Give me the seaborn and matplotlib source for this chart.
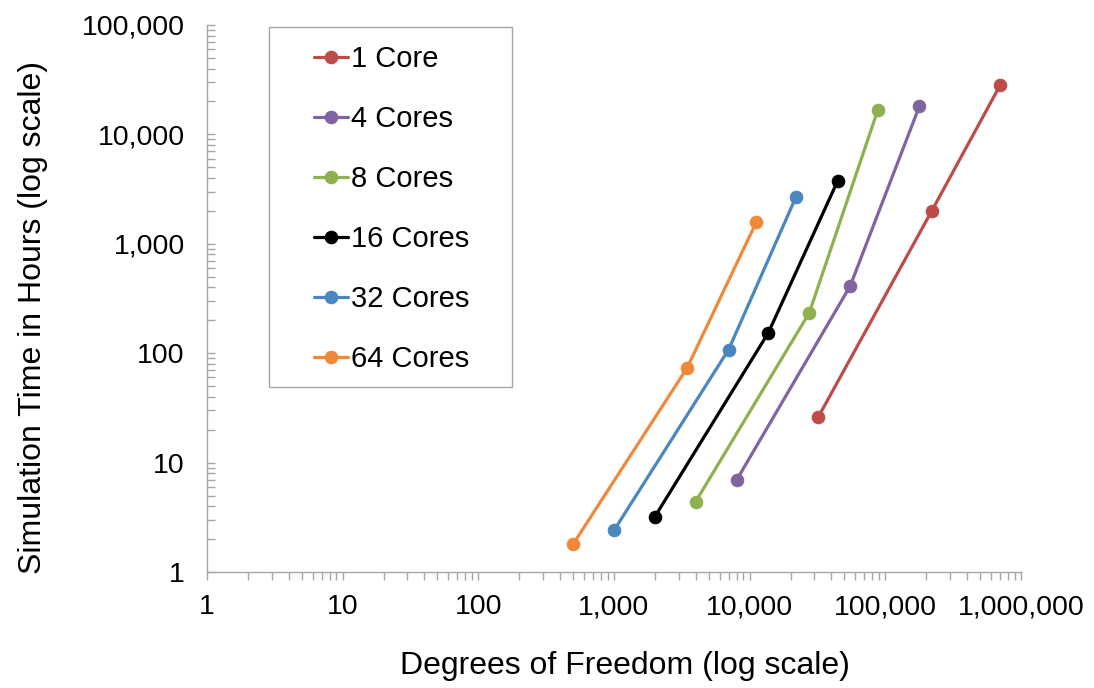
import numpy as np
import pandas as pd
import matplotlib
matplotlib.use("Agg")
import matplotlib.pyplot as plt
import matplotlib.ticker as mticker
from matplotlib.patches import Rectangle
import seaborn as sns

# values
series = ["1 Core", "4 Cores", "8 Cores", "16 Cores", "32 Cores", "64 Cores"]
dof_1 = [32000, 220000, 700000]
hrs_1 = [26, 2000, 28000]
dof_4 = [8000, 55000, 178000]
hrs_4 = [6.9, 410, 18000]
dof_8 = [4000, 27500, 88000]
hrs_8 = [4.4, 234, 16700]
dof_16 = [2000, 13700, 44500]
hrs_16 = [3.2, 153, 3750]
dof_32 = [1000, 7000, 22000]
hrs_32 = [2.4, 108, 2700]
dof_64 = [500, 3450, 11200]
hrs_64 = [1.8, 73, 1580]

colors = ["#BE4B48", "#8064A2", "#8EB04E", "#000000", "#4A86C1", "#F0883A"]

dofs = [dof_1, dof_4, dof_8, dof_16, dof_32, dof_64]
hrs = [hrs_1, hrs_4, hrs_8, hrs_16, hrs_32, hrs_64]
df = pd.DataFrame({
    "dof": np.concatenate(dofs),
    "hours": np.concatenate(hrs),
    "series": np.repeat(series, [len(d) for d in dofs]),
})

sns.set_style("white")
plt.rcParams["font.family"] = ["Liberation Sans", "DejaVu Sans"]
plt.rcParams["text.color"] = "black"
plt.rcParams["axes.labelcolor"] = "black"
plt.rcParams["xtick.labelcolor"] = "black"
plt.rcParams["ytick.labelcolor"] = "black"

fig = plt.figure(figsize=(10.94, 6.88), dpi=100)
ax = fig.add_axes([207 / 1094, 1 - 572 / 688, (1021 - 207) / 1094, (572 - 25) / 688])

sns.lineplot(data=df, x="dof", y="hours", hue="series", hue_order=series,
             palette=dict(zip(series, colors)), marker="o", markersize=9,
             linewidth=2.3, sort=False, ax=ax, legend=True)
for ln in ax.lines:
    ln.set_markeredgecolor(ln.get_color())
    ln.set_markeredgewidth(0.8)

ax.set_xscale("log")
ax.set_yscale("log")
ax.set_xlim(1, 1e6)
ax.set_ylim(1, 1e5)

fmt = mticker.FuncFormatter(lambda v, p: f"{v:,.0f}")
ax.xaxis.set_major_locator(mticker.LogLocator(base=10, numticks=10))
ax.yaxis.set_major_locator(mticker.LogLocator(base=10, numticks=10))
ax.xaxis.set_minor_locator(mticker.LogLocator(base=10, subs=np.arange(2, 10), numticks=20))
ax.yaxis.set_minor_locator(mticker.LogLocator(base=10, subs=np.arange(2, 10), numticks=20))
ax.xaxis.set_major_formatter(fmt)
ax.yaxis.set_major_formatter(fmt)
ax.xaxis.set_minor_formatter(mticker.NullFormatter())
ax.yaxis.set_minor_formatter(mticker.NullFormatter())

gray = "#A6A6A6"
for s in ["top", "right"]:
    ax.spines[s].set_visible(False)
for s in ["left", "bottom"]:
    ax.spines[s].set_color(gray)
    ax.spines[s].set_linewidth(1.0)

ax.tick_params(axis="x", which="both", direction="out", length=6, width=1,
               color=gray, labelsize=20.5, pad=10, bottom=True)
ax.tick_params(axis="y", which="both", direction="in", length=6, width=1,
               color=gray, labelsize=20.5, pad=16, left=True)

ax.set_xlabel("Degrees of Freedom (log scale)", fontsize=23, labelpad=22)
ax.set_ylabel("Simulation Time in Hours (log scale)", fontsize=23, labelpad=24)
ax.xaxis.label.set_x((625 - 207) / 814)
ax.yaxis.label.set_y((572 - 318) / 547)

# legend box as in the reference: wide left margin before the handles
ax.add_patch(Rectangle((269 / 1094, 1 - 387 / 688), (512 - 269) / 1094,
                       (387 - 27) / 688, transform=fig.transFigure,
                       facecolor="white", edgecolor=gray, linewidth=1.0,
                       clip_on=False, zorder=4.5))
leg = ax.legend(loc="upper left", bbox_to_anchor=(314 / 1094, 1 - 45 / 688),
                bbox_transform=fig.transFigure, fontsize=21, frameon=False,
                labelspacing=1.1, handlelength=1.15, handletextpad=0.12,
                borderpad=0, borderaxespad=0, title=None)
leg.set_zorder(6)

fig.savefig("out.png", dpi=100)
